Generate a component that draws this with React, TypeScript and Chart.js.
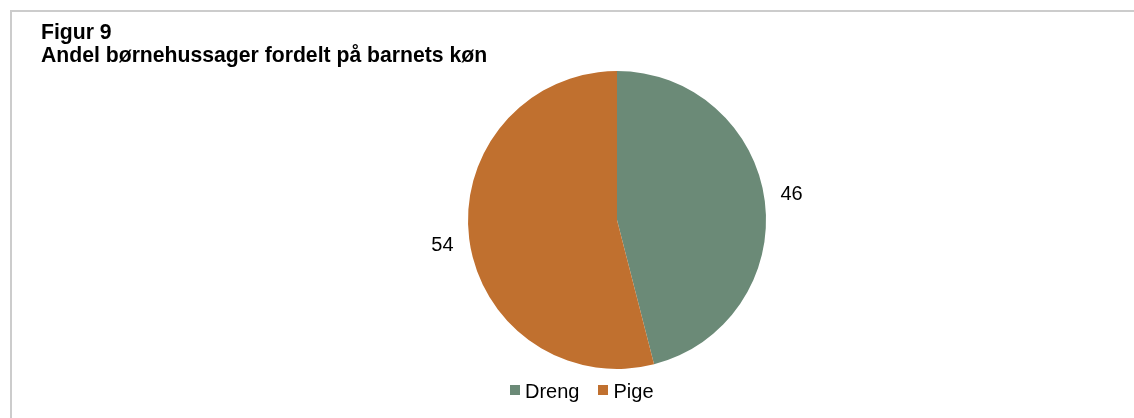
import React, { useEffect, useRef } from "react";
import { Chart, registerables } from "chart.js";

Chart.register(...registerables);

const titleLines = ["Figur 9", "Andel børnehussager fordelt på barnets køn"];
const categories = ["Dreng", "Pige"];
const values = [46, 54];
const colors = ["#6B8A77", "#C0702F"];

const FONT = "'Liberation Sans', Arial, Helvetica, sans-serif";

const outsideLabels = {
  id: "outsideLabels",
  afterDatasetsDraw(chart: any) {
    const ctx = chart.ctx;
    const meta = chart.getDatasetMeta(0);
    ctx.save();
    ctx.font = `20px ${FONT}`;
    ctx.fillStyle = "#000";
    ctx.textAlign = "center";
    ctx.textBaseline = "middle";
    meta.data.forEach((arc: any, i: number) => {
      const p = arc.getProps(["x", "y", "startAngle", "endAngle", "outerRadius"], true);
      const mid = (p.startAngle + p.endAngle) / 2;
      const r = p.outerRadius + 27;
      const s = Math.sin(mid);
      const x = p.x + Math.cos(mid) * r;
      const y = p.y + s * r + Math.sign(s) * 3.5;
      ctx.fillText(String(chart.data.datasets[0].data[i]), x, y);
    });
    ctx.restore();
  },
};

export default function App() {
  const ref = useRef<HTMLCanvasElement | null>(null);

  useEffect(() => {
    if (!ref.current) return;
    const chart = new Chart(ref.current, {
      type: "pie",
      data: {
        labels: categories,
        datasets: [
          {
            data: values,
            backgroundColor: colors,
            borderWidth: 0,
          },
        ],
      },
      options: {
        animation: false,
        responsive: false,
        maintainAspectRatio: false,
        layout: { padding: { top: 71, bottom: 49, left: 100, right: 0 } },
        plugins: {
          legend: { display: false },
          tooltip: { enabled: false },
          title: { display: false },
        },
      },
      plugins: [outsideLabels],
    });
    return () => chart.destroy();
  }, []);

  return (
    <div
      style={{
        position: "fixed",
        left: 0,
        top: 0,
        width: 1134,
        height: 418,
        background: "#fff",
        overflow: "hidden",
        fontFamily: FONT,
      }}
    >
      <div
        style={{
          position: "absolute",
          left: 10,
          top: 10,
          width: 1200,
          height: 500,
          borderTop: "2px solid #CCCCCC",
          borderLeft: "2px solid #CCCCCC",
        }}
      />
      <canvas
        ref={ref}
        width={1134}
        height={418}
        style={{ position: "absolute", left: 0, top: 0, width: 1134, height: 418 }}
      />
      <div
        style={{
          position: "absolute",
          left: 41,
          top: 20,
          fontWeight: "bold",
          fontSize: 21.2,
          lineHeight: "23px",
          color: "#000",
          whiteSpace: "nowrap",
        }}
      >
        {titleLines.map((t, i) => (
          <div key={i}>{t}</div>
        ))}
      </div>
      <div
        style={{
          position: "absolute",
          left: 510,
          top: 381,
          display: "flex",
          fontSize: 20,
          lineHeight: "20px",
          color: "#000",
          whiteSpace: "nowrap",
        }}
      >
        {categories.map((c, i) => (
          <div key={c} style={{ display: "flex", alignItems: "flex-start", marginRight: 19 }}>
            <span
              style={{
                display: "inline-block",
                width: 10,
                height: 10,
                marginTop: 4,
                marginRight: 5,
                background: colors[i],
              }}
            />
            <span>{c}</span>
          </div>
        ))}
      </div>
    </div>
  );
}
